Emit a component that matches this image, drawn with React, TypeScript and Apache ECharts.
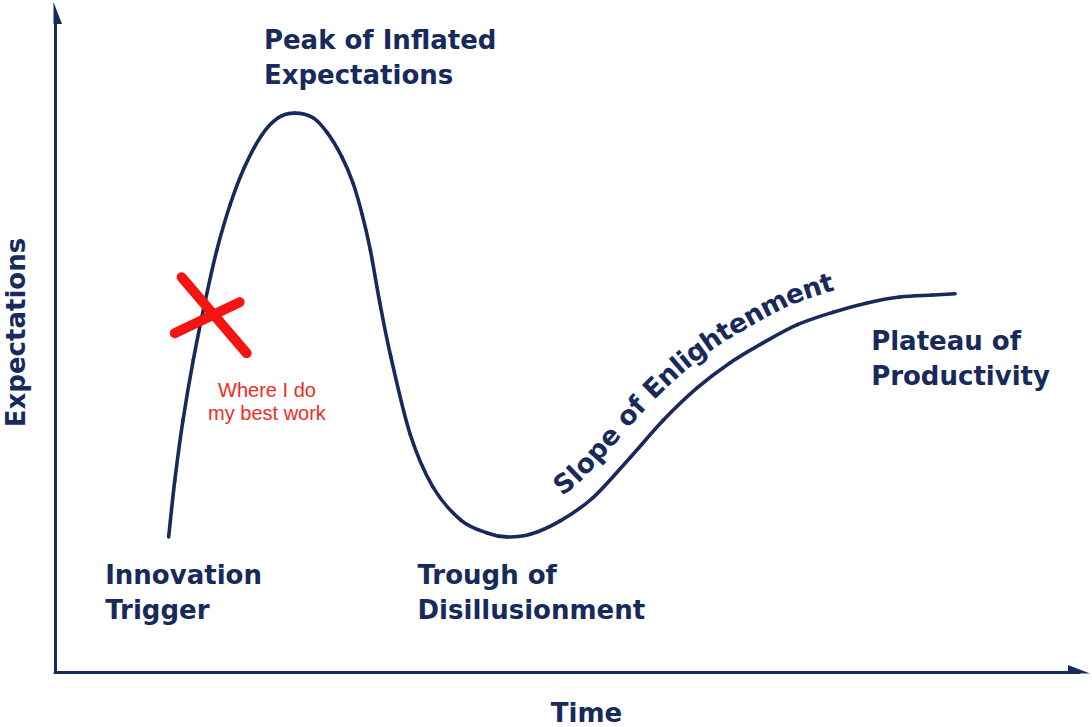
import React, { useEffect, useRef } from "react";
import * as echarts from "echarts";

const NAVY = "#172a5b";
const RED = "#f5140f";
const RED_TEXT = "#f52a1d";

// Hype-cycle curve (time 0..100, expectations 0..100)
const curveX = [
  11.1, 11.7, 12.5, 13.5, 14.7, 15.8, 17.1, 18.5, 20.2, 21.8, 23.4, 25.2, 26.6, 28.0,
  29.1, 30.0, 30.8, 31.7, 32.8, 34.7, 36.9, 39.6, 42.2, 44.1, 46.4, 49.3, 52.5, 56.2,
  59.4, 62.7, 65.9, 69.1, 72.5, 76.0, 79.3, 82.5, 85.7, 87.9,
];
const curveY = [
  20.5, 29.1, 38.2, 47.3, 56.5, 64.0, 70.9, 76.6, 81.5, 84.1, 84.8, 84.1, 81.8, 78.2,
  74.2, 69.4, 64.0, 56.2, 47.8, 36.0, 28.1, 23.1, 21.1, 20.5, 20.9, 22.9, 26.4, 32.6,
  38.2, 43.1, 46.9, 49.9, 52.7, 54.6, 56.0, 56.9, 57.2, 57.4,
];

const phaseLabels = [
  "Innovation\nTrigger",
  "Peak of Inflated\nExpectations",
  "Trough of\nDisillusionment",
  "Plateau of\nProductivity",
];
const phaseLabelX = [4.9, 20.4, 35.4, 79.7];
const phaseLabelY = [12.1, 93.2, 12.1, 47.6];

const slopeLabel = "Slope of Enlightenment";
const noteLabel = "Where I do\nmy best work";
const markerPoint = [15.2, 54.0];
const noteAnchor = [20.7, 41.0];

const xAxisName = "Time";
const yAxisName = "Expectations";

const HEAD_FONT = "DejaVu Sans";

// Catmull-Rom segment i -> i+1 as a cubic Bezier (in pixel space)
function segBezier(pts: number[][], i: number) {
  const p0 = pts[Math.max(i - 1, 0)];
  const p1 = pts[i];
  const p2 = pts[i + 1];
  const p3 = pts[Math.min(i + 2, pts.length - 1)];
  return {
    x1: p1[0],
    y1: p1[1],
    cpx1: p1[0] + (p2[0] - p0[0]) / 6,
    cpy1: p1[1] + (p2[1] - p0[1]) / 6,
    cpx2: p2[0] - (p3[0] - p1[0]) / 6,
    cpy2: p2[1] - (p3[1] - p1[1]) / 6,
    x2: p2[0],
    y2: p2[1],
  };
}

function sampleBezier(b: any, steps: number, out: number[][]) {
  for (let k = 0; k < steps; k++) {
    const t = k / steps;
    const u = 1 - t;
    const x = u * u * u * b.x1 + 3 * u * u * t * b.cpx1 + 3 * u * t * t * b.cpx2 + t * t * t * b.x2;
    const y = u * u * u * b.y1 + 3 * u * u * t * b.cpy1 + 3 * u * t * t * b.cpy2 + t * t * t * b.y2;
    out.push([x, y]);
  }
}

export default function App() {
  const ref = useRef<HTMLDivElement>(null);
  useEffect(() => {
    const el = ref.current!;
    const chart = echarts.init(el, null, { renderer: "svg" });
    const lineData = curveX.map((x, i) => [x, curveY[i]]);
    const nameStyle = {
      color: NAVY,
      fontFamily: HEAD_FONT,
      fontWeight: "bold" as const,
      fontSize: 26,
    };
    chart.setOption({
      animation: false,
      backgroundColor: "#ffffff",
      grid: {
        left: 55,
        right: 13,
        top: 13,
        bottom: 55,
        containLabel: false,
        outerBoundsMode: "none",
      },
      xAxis: {
        type: "value",
        min: 0,
        max: 100,
        name: xAxisName,
        nameLocation: "middle",
        nameGap: 28,
        nameTextStyle: { ...nameStyle, padding: [0, 0, 0, 39] },
        axisLine: {
          show: true,
          symbol: ["none", "path://M14,22L13.99,22ZM8.5,0L0,22L8.5,22Z"],
          symbolSize: [14, 22],
          lineStyle: { color: NAVY, width: 3 },
        },
        axisTick: { show: false },
        axisLabel: { show: false },
        splitLine: { show: false },
      },
      yAxis: {
        type: "value",
        min: 0,
        max: 100,
        name: yAxisName,
        nameLocation: "middle",
        nameGap: 26,
        nameTextStyle: { ...nameStyle, padding: [0, 0, 0, 20] },
        axisLine: {
          show: true,
          symbol: ["none", "path://M0,22L0.01,22ZM5.5,0L14,22L5.5,22Z"],
          symbolSize: [14, 22],
          lineStyle: { color: NAVY, width: 3 },
        },
        axisTick: { show: false },
        axisLabel: { show: false },
        splitLine: { show: false },
      },
      series: [
        {
          type: "custom",
          name: "Hype cycle",
          data: lineData,
          z: 3,
          silent: true,
          renderItem: (params: any, api: any) => {
            const i = params.dataIndex;
            if (i >= lineData.length - 1) return null;
            const pts = [i - 1, i, i + 1, i + 2].map((j) => {
              const k = Math.min(Math.max(j, 0), lineData.length - 1);
              return api.coord(lineData[k]);
            });
            const b = segBezier(pts, 1);
            return {
              type: "bezierCurve",
              shape: b,
              style: { stroke: NAVY, lineWidth: 3.6, fill: "none", lineCap: "round" },
            };
          },
        },
        {
          type: "custom",
          data: [markerPoint],
          z: 5,
          silent: true,
          renderItem: (_params: any, api: any) => {
            const c = api.coord([api.value(0), api.value(1)]);
            const st = { stroke: RED, lineWidth: 10, lineCap: "round" };
            return {
              type: "group",
              children: [
                { type: "line", shape: { x1: c[0] - 29, y1: c[1] - 39, x2: c[0] + 36, y2: c[1] + 37 }, style: st },
                { type: "line", shape: { x1: c[0] - 36, y1: c[1] + 17, x2: c[0] + 29, y2: c[1] - 14 }, style: st },
              ],
            };
          },
        },
      ],
    });

    const px = (p: number[]) => chart.convertToPixel({ gridIndex: 0 }, p) as unknown as number[];
    const graphics: any[] = [];
    phaseLabels.forEach((t, i) => {
      const p = px([phaseLabelX[i], phaseLabelY[i]]);
      graphics.push({
        type: "text",
        x: p[0],
        y: p[1],
        silent: true,
        style: {
          text: t,
          fill: NAVY,
          fontFamily: HEAD_FONT,
          fontWeight: "bold",
          fontSize: 26,
          lineHeight: 35,
          align: "left",
          verticalAlign: "middle",
        },
      });
    });
    const np = px(noteAnchor);
    graphics.push({
      type: "text",
      x: np[0],
      y: np[1],
      silent: true,
      z: 10,
      style: {
        text: noteLabel,
        fill: RED_TEXT,
        fontFamily: "Liberation Sans",
        fontSize: 20,
        lineHeight: 23,
        align: "center",
        verticalAlign: "middle",
      },
    });

    // Curved label along the slope, following the same Catmull-Rom curve
    const pix = lineData.map((d) => px(d));
    const trough = curveY.indexOf(Math.min(...curveY));
    const samp: number[][] = [];
    for (let i = trough; i < pix.length - 1; i++) sampleBezier(segBezier(pix, i), 30, samp);
    samp.push(pix[pix.length - 1]);
    const OFF = 30;
    const offPts: number[][] = [];
    const angs: number[] = [];
    for (let i = 0; i < samp.length; i++) {
      const a = samp[Math.max(i - 1, 0)];
      const b = samp[Math.min(i + 1, samp.length - 1)];
      let tx = b[0] - a[0];
      let ty = b[1] - a[1];
      const L = Math.hypot(tx, ty) || 1;
      tx /= L;
      ty /= L;
      offPts.push([samp[i][0] + ty * OFF, samp[i][1] - tx * OFF]);
      angs.push(Math.atan2(ty, tx));
    }
    const cum = [0];
    for (let i = 1; i < offPts.length; i++) {
      cum.push(cum[i - 1] + Math.hypot(offPts[i][0] - offPts[i - 1][0], offPts[i][1] - offPts[i - 1][1]));
    }
    let startIdx = samp.findIndex((p) => p[0] >= 572);
    if (startIdx < 0) startIdx = 0;
    const s0 = cum[startIdx];
    const at = (s: number) => {
      let i = 1;
      while (i < cum.length - 1 && cum[i] < s) i++;
      const f = (s - cum[i - 1]) / (cum[i] - cum[i - 1] || 1);
      const p = [
        offPts[i - 1][0] + (offPts[i][0] - offPts[i - 1][0]) * f,
        offPts[i - 1][1] + (offPts[i][1] - offPts[i - 1][1]) * f,
      ];
      const a = angs[i - 1] + (angs[i] - angs[i - 1]) * f;
      return { p, a };
    };
    const SLOPE_SIZE = 26.5;
    const cv = document.createElement("canvas").getContext("2d")!;
    cv.font = `bold ${SLOPE_SIZE}px "${HEAD_FONT}"`;
    let acc = 0;
    for (const ch of slopeLabel) {
      const w = cv.measureText(ch).width;
      if (ch !== " ") {
        const { p, a } = at(s0 + acc + w / 2);
        graphics.push({
          type: "text",
          x: p[0],
          y: p[1],
          rotation: -a,
          silent: true,
          style: {
            text: ch,
            fill: NAVY,
            fontFamily: HEAD_FONT,
            fontWeight: "bold",
            fontSize: SLOPE_SIZE,
            align: "center",
            verticalAlign: "middle",
          },
        });
      }
      acc += w;
    }

    chart.setOption({ graphic: { elements: graphics } });
    return () => chart.dispose();
  }, []);
  return (
    <div
      ref={ref}
      style={{ position: "fixed", left: 0, top: 0, width: 1092, height: 727, background: "#fff" }}
    />
  );
}
